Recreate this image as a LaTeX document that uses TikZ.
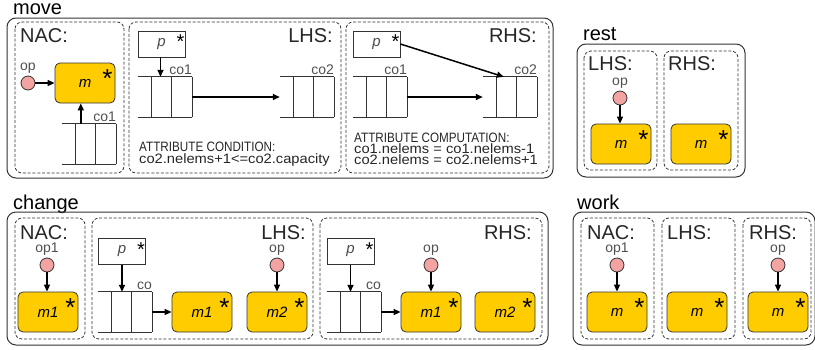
\documentclass[tikz,border=0pt]{standalone}
\usepackage{fontspec}
\setmainfont{Liberation Sans}
\newfontfamily\capsfont[FakeStretch=0.86]{Liberation Sans}
\newfontfamily\lowfont[FakeStretch=1.08]{Liberation Sans}
\usetikzlibrary{arrows.meta,calc}
\definecolor{myyellow}{HTML}{FFCC00}
\definecolor{mypink}{HTML}{F4A3A3}
\definecolor{edge}{HTML}{333333}
\definecolor{lblgray}{HTML}{505050}
\tikzset{
 outerbox/.style={draw=edge, line width=1pt, rounded corners=9pt},
 dashbox/.style={draw=edge, line width=0.8pt, dash pattern=on 3pt off 1.8pt, rounded corners=7pt},
 title/.style={font=\fontsize{20}{22}\selectfont, anchor=base west, inner sep=0},
 part/.style={font=\fontsize{20}{22}\selectfont, text=black!85, inner sep=0},
 mbox/.style={draw=edge, fill=myyellow, rounded corners=5pt, minimum width=60pt, minimum height=40pt, inner sep=0, font=\fontsize{15}{15}\selectfont\itshape, line width=0.8pt},
 pbox/.style={draw=edge, fill=white, minimum width=47pt, minimum height=26pt, inner sep=0, font=\fontsize{15}{15}\selectfont\itshape, text=black!70, line width=0.8pt},
 obj/.style={circle, draw=edge, fill=mypink, minimum size=14pt, inner sep=0, line width=0.8pt},
 lbl/.style={font=\fontsize{14}{14}\selectfont, text=lblgray, inner sep=0},
 cont/.style={minimum width=54pt, minimum height=40pt, inner sep=0},
 contline/.style={draw=edge, line width=0.8pt},
 bigstar/.style={font=\fontsize{26}{26}\selectfont, inner sep=0, anchor=base},
 smallstar/.style={font=\fontsize{20}{20}\selectfont, inner sep=0, anchor=base},
 arr/.style={-{Triangle[length=7pt,width=6pt]}, line width=1.5pt, draw=black},
 capsline/.style={font=\capsfont\fontsize{13.6}{14}\selectfont, anchor=base west, inner sep=0, text=black!85},
 lowline/.style={font=\lowfont\fontsize{13.6}{14}\selectfont, anchor=base west, inner sep=0, text=black!85},
}
\newcommand\contlines[1]{%
  \draw[contline] (#1.north west) -- (#1.north east) (#1.south west) -- (#1.south east)
    ([xshift=14pt]#1.north west) -- ([xshift=14pt]#1.south west)
    ([xshift=34pt]#1.north west) -- ([xshift=34pt]#1.south west)
    (#1.north east) -- (#1.south east);}
\newcommand\mstar[1]{\node[bigstar] (#1s) at ([xshift=-8pt,yshift=-25pt]#1.north east) {*};}
\newcommand\pstar[1]{\node[smallstar] (#1s) at ([xshift=-5pt,yshift=-18pt]#1.north east) {*};}
\newcommand\contlabel[3]{\node[lbl, anchor=base east] (#1) at ([yshift=2pt]#2.north east) {#3};}
\begin{document}
\begin{tikzpicture}[x=1pt,y=-1pt]
\useasboundingbox (0,0) rectangle (815,349);

% ================= MOVE =================
\node[title] (tmove) at (13,14.5) {move};
\draw[outerbox] (7,18) rectangle (553,178);
\draw[dashbox] (15,22) rectangle (124,173);
\draw[dashbox] (129,22) rectangle (341,173);
\draw[dashbox] (346,22) rectangle (549,173);
% NAC
\node[part, anchor=base west] (mvnac) at (20,42) {NAC:};
\node[obj, label={[lbl, label distance=2pt]above:op}] (mvop) at (28,83) {};
\node[mbox] (mvm) at (85,83) {m};
\mstar{mvm}
\node[cont] (mvnc) at (89,144) {};
\contlines{mvnc}
\contlabel{mvncl}{mvnc}{co1}
\draw[arr] (mvop) -- (mvm);
\coordinate (mvnca) at ([xshift=19pt]mvnc.north west);
\draw[arr] (mvnca) -- (mvnca |- mvm.south);
% LHS
\node[part, anchor=base east] (mvlhs) at (333,42) {LHS:};
\node[pbox] (mvlp) at (161.5,44) {p};
\pstar{mvlp}
\node[cont] (mvlc1) at (165,97) {};
\contlines{mvlc1}
\contlabel{mvlc1l}{mvlc1}{co1}
\node[cont] (mvlc2) at (307,97) {};
\contlines{mvlc2}
\contlabel{mvlc2l}{mvlc2}{co2}
\coordinate (mvlpa) at ([xshift=-1pt]mvlp.south);
\draw[arr] (mvlpa) -- (mvlpa |- mvlc1.north);
\draw[arr] (mvlc1.east) -- (mvlc2.west);
\node[capsline] (mvcond1) at (139,151.5) {ATTRIBUTE CONDITION:};
\node[lowline] (mvcond2) at (139,163) {co2.nelems+1<=co2.capacity};
% RHS
\node[part, anchor=base east] (mvrhs) at (537,42) {RHS:};
\node[pbox] (mvrp) at (376.5,44) {p};
\pstar{mvrp}
\node[cont] (mvrc1) at (380,97) {};
\contlines{mvrc1}
\contlabel{mvrc1l}{mvrc1}{co1}
\node[cont] (mvrc2) at (510,97) {};
\contlines{mvrc2}
\contlabel{mvrc2l}{mvrc2}{co2}
\draw[arr] (mvrp.east) -- ([xshift=21pt]mvrc2.north west);
\draw[arr] (mvrc1.east) -- (mvrc2.west);
\node[capsline] (mvcomp1) at (354,142.5) {ATTRIBUTE COMPUTATION:};
\node[lowline] (mvcomp2) at (354,153.5) {co1.nelems = co1.nelems-1};
\node[lowline] (mvcomp3) at (354,164.5) {co2.nelems = co2.nelems+1};

% ================= REST =================
\node[title] (trest) at (583,40) {rest};
\draw[outerbox] (577,44) rectangle (745,177);
\draw[dashbox] (584,51) rectangle (657,170);
\draw[dashbox] (664,51) rectangle (738,170);
\node[part, anchor=base west] (rslhs) at (588,70) {LHS:};
\node[part, anchor=base west] (rsrhs) at (668,70) {RHS:};
\node[obj, label={[lbl, label distance=2pt]above:op}] (rsop) at (620,98) {};
\node[mbox] (rslm) at (621,144) {m};
\mstar{rslm}
\node[mbox] (rsrm) at (701,144) {m};
\mstar{rsrm}
\draw[arr] (rsop) -- (rsop |- rslm.north);

% ================= CHANGE =================
\node[title] (tchange) at (13,209) {change};
\draw[outerbox] (7,212) rectangle (548,345);
\draw[dashbox] (15,218) rectangle (85,339);
\draw[dashbox] (92,218) rectangle (313,339);
\draw[dashbox] (320,218) rectangle (542,339);
% NAC
\node[part, anchor=base west] (chnac) at (20,239) {NAC:};
\node[obj, label={[lbl, label distance=2pt]above:op1}] (chnop) at (47,265) {};
\node[mbox] (chnm) at (48,312) {m1};
\mstar{chnm}
\draw[arr] (chnop) -- (chnop |- chnm.north);
% LHS
\node[part, anchor=base east] (chlhs) at (306,239) {LHS:};
\node[pbox] (chlp) at (122,251.5) {p};
\pstar{chlp}
\node[cont] (chlc) at (125,312) {};
\contlines{chlc}
\contlabel{chlcl}{chlc}{co}
\node[mbox] (chlm1) at (202,312) {m1};
\mstar{chlm1}
\node[obj, label={[lbl, label distance=2pt]above:op}] (chlop) at (277,265) {};
\node[mbox] (chlm2) at (277,312) {m2};
\mstar{chlm2}
\draw[arr] (chlp.south) -- (chlp.south |- chlc.north);
\draw[arr] (chlc.east) -- (chlm1.west);
\draw[arr] (chlop) -- (chlop |- chlm2.north);
% RHS
\node[part, anchor=base east] (chrhs) at (532,239) {RHS:};
\node[pbox] (chrp) at (350.5,251.5) {p};
\pstar{chrp}
\node[cont] (chrc) at (354,312) {};
\contlines{chrc}
\contlabel{chrcl}{chrc}{co}
\node[mbox] (chrm1) at (431,312) {m1};
\mstar{chrm1}
\node[obj, label={[lbl, label distance=2pt]above:op}] (chrop) at (431,265) {};
\node[mbox] (chrm2) at (505,312) {m2};
\mstar{chrm2}
\draw[arr] (chrp.south) -- (chrp.south |- chrc.north);
\draw[arr] (chrc.east) -- (chrm1.west);
\draw[arr] (chrop) -- (chrop |- chrm1.north);

% ================= WORK =================
\node[title] (twork) at (577,209) {work};
\draw[outerbox] (573,212) rectangle (815,345);
\draw[dashbox] (581,218) rectangle (654,339);
\draw[dashbox] (662,218) rectangle (735,339);
\draw[dashbox] (743,218) rectangle (811,339);
\node[part, anchor=base west] (wknac) at (587,239) {NAC:};
\node[part, anchor=base west] (wklhs) at (667,239) {LHS:};
\node[part, anchor=base west] (wkrhs) at (749,239) {RHS:};
\node[obj, label={[lbl, label distance=2pt]above:op1}] (wknop) at (617,265) {};
\node[mbox] (wknm) at (617,312) {m};
\mstar{wknm}
\draw[arr] (wknop) -- (wknop |- wknm.north);
\node[mbox] (wklm) at (697,312) {m};
\mstar{wklm}
\node[obj, label={[lbl, label distance=2pt]above:op}] (wkrop) at (778,265) {};
\node[mbox] (wkrm) at (778,312) {m};
\mstar{wkrm}
\draw[arr] (wkrop) -- (wkrop |- wkrm.north);
\end{tikzpicture}
\end{document}
